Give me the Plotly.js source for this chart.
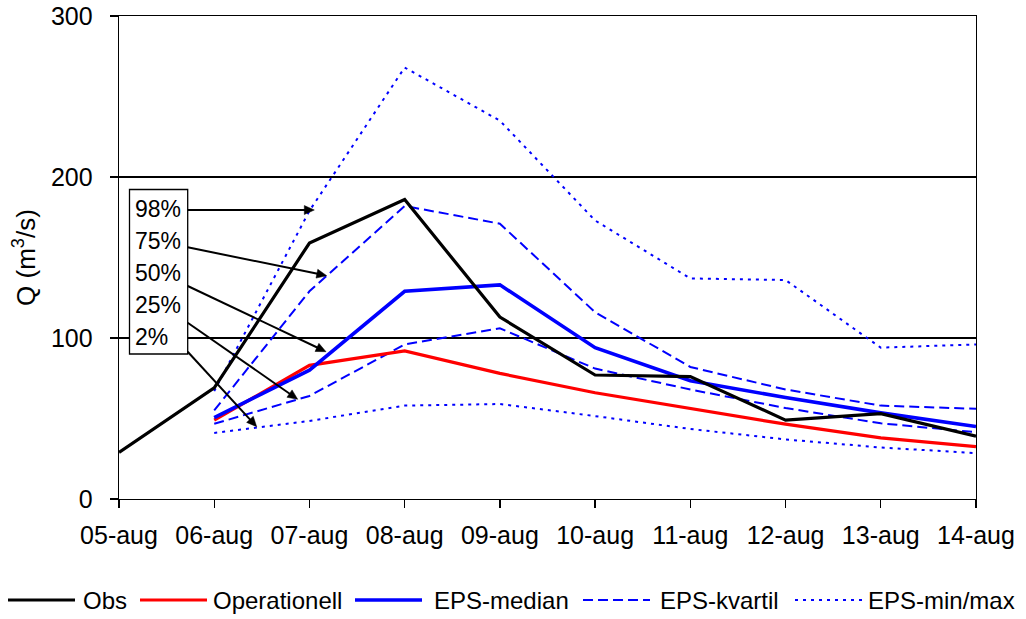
<!DOCTYPE html>
<html>
<head>
<meta charset="utf-8">
<script src="https://cdn.plot.ly/plotly-3.0.1.min.js"></script>
<style>
  html, body { margin: 0; padding: 0; background: #fff; }
  #chart { width: 1026px; height: 619px; }
</style>
</head>
<body>
<div id="chart"></div>
<script>
// Discharge forecast, 05-14 August
const dates = ['05-aug', '06-aug', '07-aug', '08-aug', '09-aug', '10-aug', '11-aug', '12-aug', '13-aug', '14-aug'];
const obs          = [29, 69, 159, 186, 113, 77, 76, 49, 53, 39];
const operationell = [null, 49, 83, 92, 78, 66, 56, 46.5, 38, 32.5];
const epsMedian    = [null, 50.5, 80, 129, 133, 94, 73.5, 63, 53.5, 45];
const epsQ75       = [null, 55, 129, 182, 171, 116, 82, 68, 58, 56];
const epsQ25       = [null, 46.7, 64, 96, 106, 81, 68, 56.5, 47, 41.5];
const epsMax       = [null, 67, 179, 268, 235, 173, 137, 136, 94, 96];
const epsMin       = [null, 41, 48.5, 58, 59, 51.5, 43.5, 37, 32, 28.5];
const percentileLabels = ['98%', '75%', '50%', '25%', '2%'];
const legendNames = ['Obs', 'Operationell', 'EPS-median', 'EPS-kvartil', 'EPS-min/max'];

const FONT = 'Liberation Sans, Arial, sans-serif';

// line styles
const styles = {
  obs:    {color: '#000000', width: 3.2, dash: 'solid'},
  oper:   {color: '#ff0000', width: 3.2, dash: 'solid'},
  median: {color: '#0000ff', width: 3.6, dash: 'solid'},
  kvart:  {color: '#0000ff', width: 2, dash: '10px,5px'},
  minmax: {color: '#0000ff', width: 2, dash: '3px,5px'}
};

function trace(y, st) {
  return {x: dates, y: y, type: 'scatter', mode: 'lines', line: st,
          connectgaps: false, showlegend: false, hoverinfo: 'x+y'};
}

const data = [
  trace(epsMin, styles.minmax),
  trace(epsMax, styles.minmax),
  trace(epsQ25, styles.kvart),
  trace(epsQ75, styles.kvart),
  trace(operationell, styles.oper),
  trace(epsMedian, styles.median),
  trace(obs, styles.obs)
];

// plot area in pixels
const L = 119, T = 16, W = 857, H = 483;
const fx = p => (p - L) / W;
const fy = p => (T + H - p) / H;

const shapes = [];
const annotations = [];

// percentile label box
shapes.push({type: 'rect', xref: 'paper', yref: 'paper', layer: 'above',
  x0: fx(129.5), x1: fx(187.7), y0: fy(354), y1: fy(189.5),
  line: {color: '#000', width: 1.3}, fillcolor: '#ffffff'});
const labelY = [209, 241, 273, 305, 337];
percentileLabels.forEach((t, i) => {
  annotations.push({text: t, xref: 'paper', yref: 'paper', x: fx(134), y: fy(labelY[i]),
    xanchor: 'left', yanchor: 'middle', showarrow: false, borderpad: 0,
    font: {family: FONT, size: 23, color: '#000'}});
});

// arrows from the label box to the lines: tail and head in px
const arrowGeom = [
  {tx: 187.7, ty: 210,   hx: 314.3, hy: 210},
  {tx: 187.7, ty: 247.3, hx: 326.7, hy: 275.7},
  {tx: 187.7, ty: 286,   hx: 326,   hy: 351.7},
  {tx: 187.7, ty: 322.7, hx: 297.7, hy: 399.3},
  {tx: 187.7, ty: 351.7, hx: 256.7, hy: 426.7}
];
const headLen = 10, headHalf = 4.5;
arrowGeom.forEach(a => {
  const dx = a.hx - a.tx, dy = a.hy - a.ty;
  const len = Math.hypot(dx, dy);
  const ux = dx / len, uy = dy / len;
  const bx = a.hx - ux * headLen, by = a.hy - uy * headLen;
  const px = -uy, py = ux;
  shapes.push({type: 'line', xref: 'paper', yref: 'paper', layer: 'above',
    x0: fx(a.tx), y0: fy(a.ty), x1: fx(bx + ux * 2), y1: fy(by + uy * 2),
    line: {color: '#000', width: 2}});
  const p1 = [a.hx, a.hy], p2 = [bx + px * headHalf, by + py * headHalf], p3 = [bx - px * headHalf, by - py * headHalf];
  shapes.push({type: 'path', xref: 'paper', yref: 'paper', layer: 'above',
    path: 'M ' + fx(p1[0]) + ' ' + fy(p1[1]) + ' L ' + fx(p2[0]) + ' ' + fy(p2[1]) +
          ' L ' + fx(p3[0]) + ' ' + fy(p3[1]) + ' Z',
    fillcolor: '#000', line: {color: '#000', width: 0.5}});
});

// legend row below the chart
const legendStyles = [styles.obs, styles.oper, styles.median, styles.kvart, styles.minmax];
const legLine = [8, 140, 355, 583, 795];
const legText = [82, 212, 433, 659, 867];
const legY = 600;
legendNames.forEach((n, i) => {
  const st = legendStyles[i];
  shapes.push({type: 'line', xref: 'paper', yref: 'paper',
    x0: fx(legLine[i]), x1: fx(legLine[i] + 67), y0: fy(legY), y1: fy(legY),
    line: {color: st.color, width: st.width, dash: st.dash}});
  annotations.push({text: n, xref: 'paper', yref: 'paper', x: fx(legText[i]), y: fy(legY),
    xanchor: 'left', yanchor: 'middle', showarrow: false, borderpad: 0,
    font: {family: FONT, size: 24, color: '#000'}});
});

const layout = {
  width: 1026, height: 619,
  margin: {l: L, r: 1026 - L - W, t: T, b: 619 - T - H, pad: 0},
  paper_bgcolor: '#ffffff', plot_bgcolor: '#ffffff',
  font: {family: FONT, color: '#000'},
  showlegend: false,
  xaxis: {
    type: 'category', range: [0, 9], fixedrange: true,
    showline: true, linecolor: '#000', linewidth: 1.3, mirror: true,
    showgrid: false, zeroline: false,
    ticks: 'outside', ticklen: 8, tickwidth: 1.3, tickcolor: '#000',
    tickfont: {family: FONT, size: 25, color: '#000'}, ticklabelstandoff: 6
  },
  yaxis: {
    range: [0, 300], dtick: 100, tick0: 0, fixedrange: true,
    showline: true, linecolor: '#000', linewidth: 1.3, mirror: true,
    showgrid: true, gridcolor: '#000', gridwidth: 1.1, zeroline: false,
    ticks: 'outside', ticklen: 8, tickwidth: 1.3, tickcolor: '#000',
    tickfont: {family: FONT, size: 25, color: '#000'}, ticklabelstandoff: 12,
    title: {text: 'Q (m<sup>3</sup>/s)', font: {family: FONT, size: 26, color: '#000'}, standoff: 8}
  },
  shapes: shapes,
  annotations: annotations
};

Plotly.newPlot('chart', data, layout, {displayModeBar: false, staticPlot: true});
</script>
</body>
</html>
